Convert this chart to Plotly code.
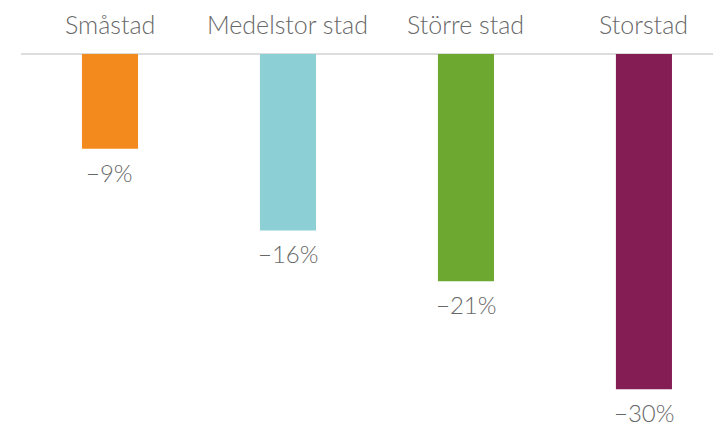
import plotly.graph_objects as go

categories = ["Småstad", "Medelstor stad", "Större stad", "Storstad"]
values = [-8.6, -16.0, -20.6, -30.4]
labels = ["−9%", "−16%", "−21%", "−30%"]
colors = ["#F28A1E", "#8CCFD4", "#6DA930", "#831D54"]

fig = go.Figure()
fig.add_trace(go.Bar(
    x=categories, y=values, marker=dict(color=colors, line=dict(width=0)),
    width=0.315, hoverinfo="skip",
))

font = dict(family="Lato", size=25, color="#686868", weight=300)
vfont = dict(family="Lato", size=24, color="#686868", weight=300)
for c, v, t in zip(categories, values, labels):
    fig.add_annotation(x=c, y=v, text=t, showarrow=False, yanchor="top",
                       yshift=-8, font=vfont, borderpad=0)
    fig.add_annotation(x=c, y=0, text=c, showarrow=False, yanchor="middle",
                       yshift=30, font=font)

fig.update_layout(
    width=713, height=426,
    margin=dict(l=21, r=0, t=54, b=8),
    paper_bgcolor="white", plot_bgcolor="white",
    showlegend=False,
    xaxis=dict(range=[-0.5, 3.388], showticklabels=False, showgrid=False,
               zeroline=False, showline=False, fixedrange=True),
    yaxis=dict(range=[-33, 0], showticklabels=False, showgrid=False,
               zeroline=True, zerolinecolor="#DDDDDD", zerolinewidth=2,
               showline=False, fixedrange=True),
)
fig.write_html("out.html")
